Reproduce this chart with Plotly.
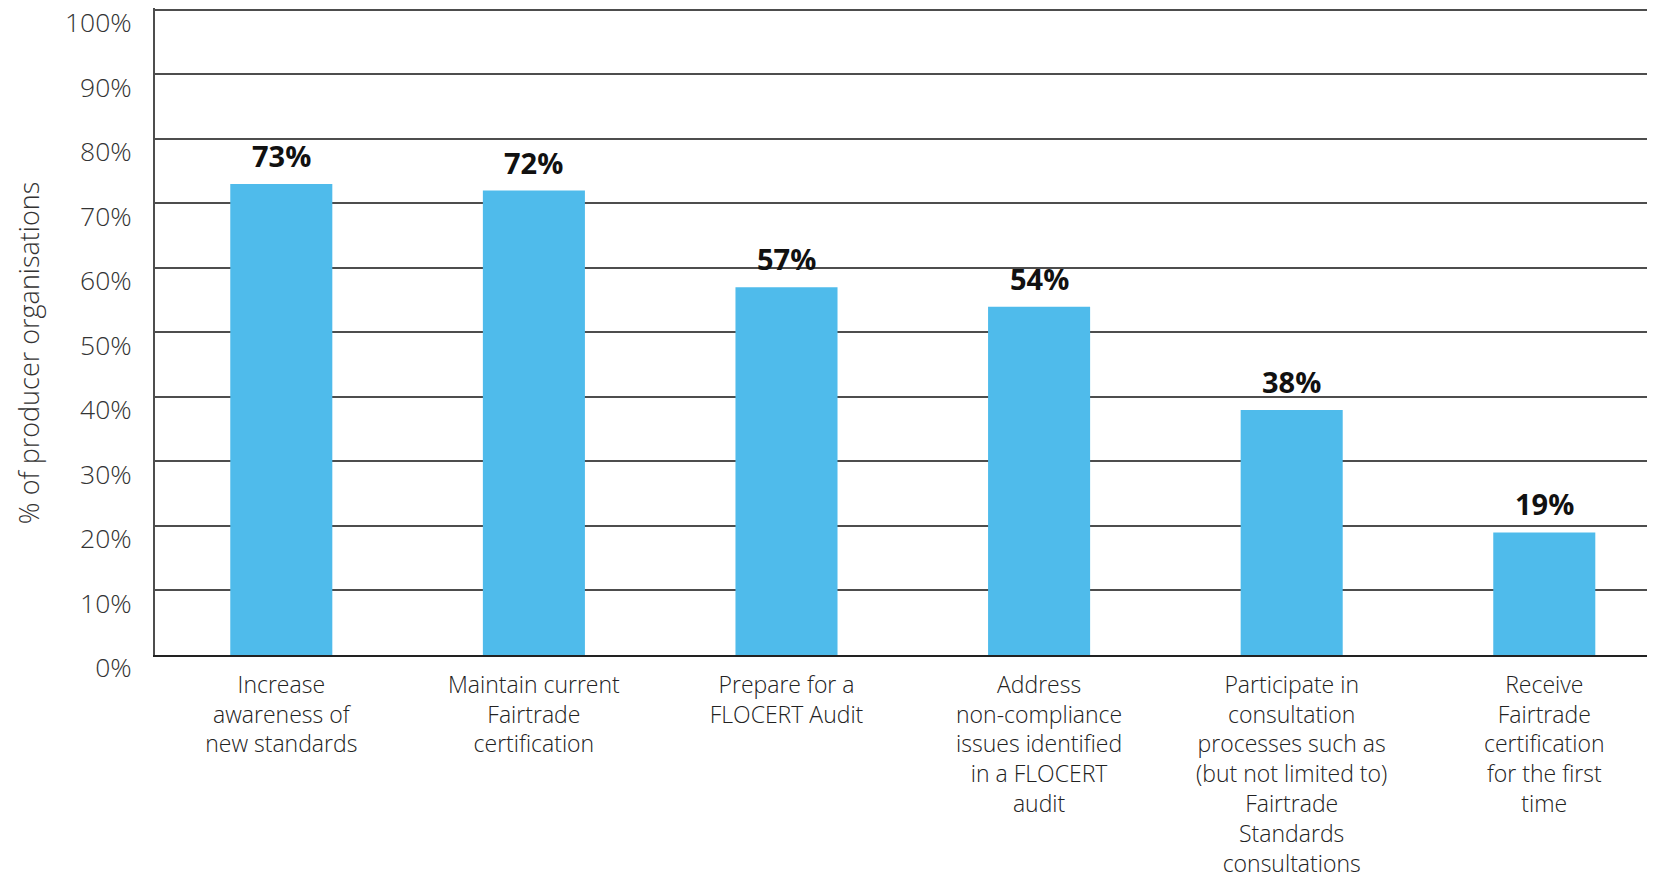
import plotly.graph_objects as go

categories = [
    "Increase<br>awareness of<br>new standards",
    "Maintain current<br>Fairtrade<br>certification",
    "Prepare for a<br>FLOCERT Audit",
    "Address<br>non-compliance<br>issues identified<br>in a FLOCERT<br>audit",
    "Participate in<br>consultation<br>processes such as<br>(but not limited to)<br>Fairtrade<br>Standards<br>consultations",
    "Receive<br>Fairtrade<br>certification<br>for the first<br>time",
]
values = [73, 72, 57, 54, 38, 19]
y_ticks = [0, 10, 20, 30, 40, 50, 60, 70, 80, 90, 100]
y_tick_labels = [f"{v}%" for v in y_ticks]
y_title = "% of producer organisations"

FONT = "Open Sans"
BAR_COLOR = "#4FBBEB"
GRID = "#4d4d4d"

fig = go.Figure()
fig.add_trace(go.Bar(
    x=list(range(len(categories))),
    y=values,
    marker=dict(color=BAR_COLOR, line=dict(width=0)),
    hoverinfo="skip",
))

for i, v in enumerate(values):
    fig.add_annotation(
        x=i, y=v, text=f"<b>{v}%</b>", showarrow=False,
        yanchor="bottom", yshift=7,
        font=dict(family=FONT, size=29, color="#111111"),
    )

fig.add_annotation(
    xref="paper", yref="paper", x=-0.0838, y=0.466,
    xanchor="center", yanchor="middle",
    text=y_title, textangle=-90, showarrow=False,
    font=dict(family=FONT, size=27, color="#333333", weight=300),
)

# top frame line at the 100% level
fig.add_shape(
    type="line", xref="paper", yref="y",
    x0=0, x1=1, y0=y_ticks[-1], y1=y_ticks[-1],
    line=dict(color=GRID, width=2), layer="below",
)

fig.update_layout(
    width=1655, height=875,
    margin=dict(l=147, r=0, t=0, b=227.5, autoexpand=False),
    paper_bgcolor="white", plot_bgcolor="white",
    bargap=0.596,
    showlegend=False,
    font=dict(family=FONT, color="#222222"),
)
fig.update_xaxes(
    range=[-0.5, 5.47],
    tickmode="array", tickvals=list(range(len(categories))), ticktext=categories,
    tickfont=dict(family=FONT, size=23, color="#222222", weight=350),
    ticks="", showgrid=False,
    showline=True, linecolor="#222222", linewidth=2, mirror=False,
    ticklabelstandoff=8,
    zeroline=False, automargin=False,
)
fig.update_yaxes(
    range=[0, 100.3],
    tickmode="array", tickvals=y_ticks, ticktext=y_tick_labels,
    tickfont=dict(family=FONT, size=26.5, color="#333333", weight=300),
    ticks="", showgrid=True, gridcolor=GRID, gridwidth=1.5,
    showline=True, linecolor=GRID, linewidth=2,
    ticklabelstandoff=16, ticklabelshift=13, ticklabeloverflow="allow",
    zeroline=False, automargin=False,
)

fig.write_html("out.html")
